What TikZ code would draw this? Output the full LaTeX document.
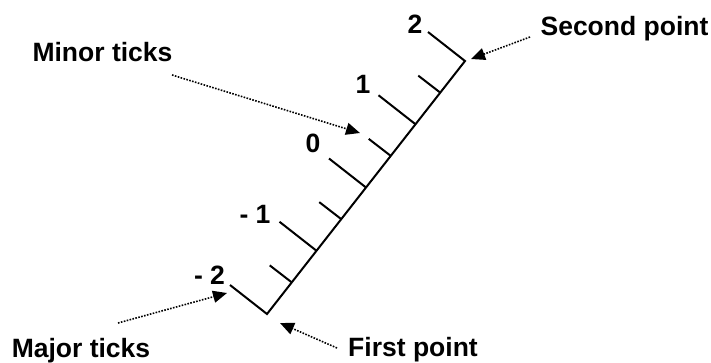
\documentclass[tikz,border=0pt]{standalone}
\usepackage{fontspec}
\setmainfont{Liberation Sans}
\usetikzlibrary{arrows.meta,calc}
\begin{document}
\begin{tikzpicture}[x=1pt,y=-1pt,
  axisline/.style={line width=2pt, line cap=butt, line join=miter},
  lbl/.style={font=\fontsize{26.5}{30}\selectfont\bfseries, inner sep=0pt},
  txt/.style={font=\fontsize{26.5}{30}\selectfont\bfseries, inner sep=0pt, anchor=base},
  pointer/.style={line width=1.6pt, dash pattern=on 1.6pt off 1.4pt,
    -{Triangle[length=14pt,width=12pt]}}]
\useasboundingbox (0,0) rectangle (711,362);
% axis end points
\coordinate (A) at (267,314);
\coordinate (B) at (465,61);
% major tick points on the axis
\coordinate (M0) at (A);
\coordinate (M1) at ($(A)!0.25!(B)$);
\coordinate (M2) at ($(A)!0.5!(B)$);
\coordinate (M3) at ($(A)!0.75!(B)$);
\coordinate (M4) at (B);
% minor tick points
\coordinate (m1) at ($(A)!0.125!(B)$);
\coordinate (m2) at ($(A)!0.375!(B)$);
\coordinate (m3) at ($(A)!0.625!(B)$);
\coordinate (m4) at ($(A)!0.875!(B)$);
% major tick ends
\coordinate (E0) at ($(M0)+(-37,-29)$);
\coordinate (E1) at ($(M1)+(-37,-29)$);
\coordinate (E2) at ($(M2)+(-37,-29)$);
\coordinate (E3) at ($(M3)+(-37,-29)$);
\coordinate (E4) at ($(M4)+(-37,-29)$);
% minor tick ends
\coordinate (e1) at ($(m1)+(-22,-17)$);
\coordinate (e2) at ($(m2)+(-22,-17)$);
\coordinate (e3) at ($(m3)+(-22,-17)$);
\coordinate (e4) at ($(m4)+(-22,-17)$);
% axis with end ticks
\draw[axisline] (E0) -- (A) -- (B) -- (E4);
\foreach \i in {1,2,3}{\draw[axisline] (M\i) -- (E\i);}
\foreach \i in {1,2,3,4}{\draw[axisline] (m\i) -- (e\i);}
% tick labels
\node[lbl] (L0) at (209.5,275) {- 2};
\node[lbl] (L1) at (255,214) {- 1};
\node[lbl] (L2) at (313,143) {0};
\node[lbl] (L3) at (363,84) {1};
\node[lbl] (L4) at (415,24) {2};
% texts
\node[txt] (minor) at (102.5,61) {Minor ticks};
\node[txt] (major) at (81,357) {Major ticks};
\node[txt] (first) at (413,356) {First point};
\node[txt] (second) at (624.5,35) {Second point};
% pointer coordinates
\coordinate (minorT) at (172,75);
\coordinate (minorH) at (360,133);
\coordinate (majorT) at (118,323);
\coordinate (majorH) at (227,293);
\coordinate (firstT) at (337,348);
\coordinate (firstH) at (280,323);
\coordinate (secondT) at (530,37);
\coordinate (secondH) at (471,59);
\draw[pointer] (minorT) -- (minorH);
\draw[pointer] (majorT) -- (majorH);
\draw[pointer] (firstT) -- (firstH);
\draw[pointer] (secondT) -- (secondH);
\end{tikzpicture}
\end{document}
